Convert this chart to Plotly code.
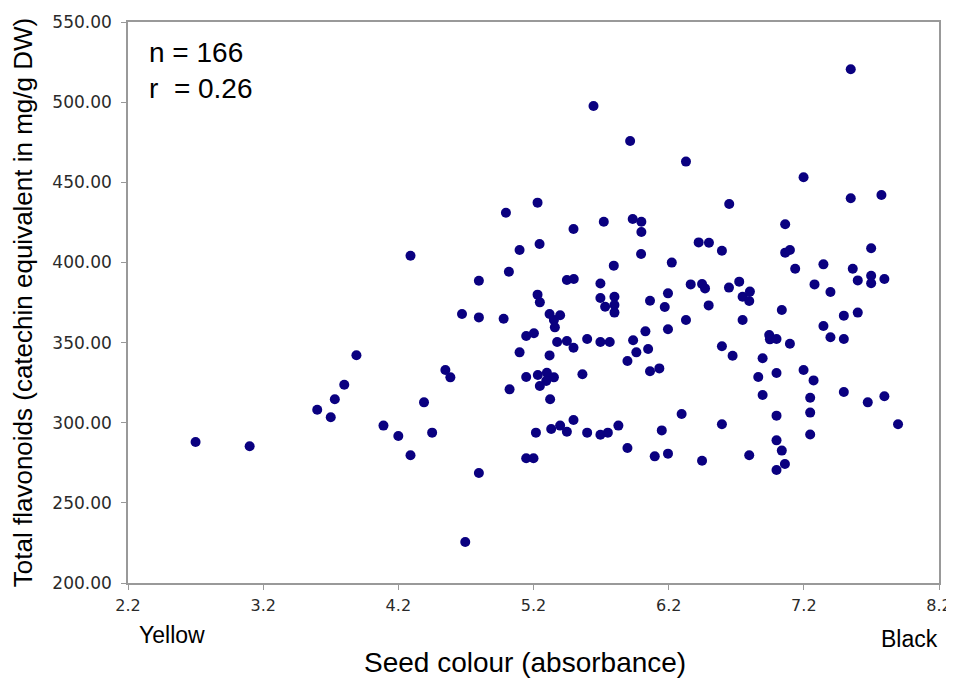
import plotly.graph_objects as go

# Seed colour (absorbance) values
seed_colour = [
    2.70, 3.10, 4.29, 3.89, 3.80, 3.73, 3.60, 3.70, 4.39, 4.09, 4.20, 4.29, 4.45,
    5.245, 5.097, 5.996, 5.794, 6.223, 5.018, 4.796, 5.447, 5.498, 5.695,
    6.363, 6.447, 6.469, 5.230, 5.247, 5.695, 5.799, 5.730, 5.799, 5.799,
    6.062, 6.195, 6.171, 6.496, 4.671, 4.796, 4.979, 5.319, 5.397, 5.351, 5.358,
    6.328, 6.028, 6.195, 5.146, 5.203, 5.375, 5.447, 5.496, 5.597, 5.695, 5.764,
    5.937, 5.961, 6.048, 5.097, 5.319, 5.895, 4.548, 4.585, 5.146, 5.232, 5.299,
    5.351, 5.294, 5.247, 5.562, 6.062, 6.131, 5.023, 5.323, 6.296, 5.496,
    5.218, 5.331, 5.397, 5.447, 5.597, 5.695, 5.750, 5.828, 6.149, 5.895,
    6.097, 6.195, 6.447, 5.146, 5.200, 4.796, 4.695, 6.422, 6.498,
    5.644, 5.915, 6.328, 5.230, 4.996, 5.720, 5.496, 5.934, 5.998, 5.998,
    6.594, 7.062, 7.097, 7.698, 7.136, 7.345, 7.562, 7.599, 7.698, 7.698, 7.796,
    7.279, 7.397, 6.722, 6.646, 6.801, 6.747, 6.796, 7.037, 6.747, 7.496, 7.599,
    7.345, 7.397, 7.496, 6.944, 6.949, 6.998, 7.097, 6.594, 6.673, 6.895, 6.998,
    6.863, 7.198, 7.272, 6.895, 7.247, 7.496, 7.673, 7.796, 7.247, 6.998, 6.594,
    7.897, 7.247, 6.998, 7.037, 6.796, 7.060, 6.998,
    7.547, 7.198, 7.547, 7.774, 6.648, 7.062,
]

# Total flavonoids (catechin equivalent in mg/g DW)
flavonoids = [
    288.0, 285.3, 404.2, 342.1, 323.7, 314.6, 308.1, 303.4, 312.7, 298.2, 291.7, 279.7, 293.8,
    411.5, 407.8, 405.3, 398.0, 399.9, 394.2, 388.6, 389.0, 389.7, 386.9,
    386.3, 386.5, 383.8, 379.9, 375.1, 377.8, 378.6, 372.4, 373.4, 368.7,
    376.1, 380.7, 372.2, 373.2, 367.8, 365.7, 364.9, 367.8, 367.0, 364.1, 359.5,
    364.1, 357.0, 358.3, 354.1, 355.8, 350.4, 351.0, 346.8, 352.2, 350.4, 350.4,
    351.4, 343.9, 346.0, 343.9, 342.0, 338.5, 332.9, 328.3, 328.5, 329.8, 331.2,
    328.3, 326.0, 322.9, 330.2, 332.1, 333.9, 320.8, 314.6, 305.4, 301.7,
    293.8, 296.1, 298.2, 294.4, 293.8, 292.5, 293.8, 298.2, 295.2, 284.2,
    279.0, 280.7, 276.3, 277.8, 277.8, 268.6, 225.6, 412.5, 412.3,
    497.6, 475.8, 462.9, 437.3, 431.0, 425.4, 420.9, 427.1, 425.4, 419.0,
    407.3, 406.1, 407.8, 408.8, 396.1, 398.8, 396.1, 388.8, 391.7, 387.0, 389.7,
    386.3, 381.6, 388.0, 384.3, 381.8, 378.6, 375.9, 370.3, 364.1, 366.8, 368.7,
    360.3, 353.3, 352.2, 354.7, 352.0, 352.2, 349.3, 347.7, 341.8, 340.2, 331.0,
    328.5, 332.9, 326.4, 317.3, 315.6, 319.2, 312.7, 316.5, 306.3, 304.4, 299.0,
    299.0, 292.6, 289.0, 282.6, 279.7, 274.2, 270.5,
    520.5, 453.1, 440.0, 442.1, 436.5, 423.8,
]

x_ticks = [2.2, 3.2, 4.2, 5.2, 6.2, 7.2, 8.2]
y_ticks = [200, 250, 300, 350, 400, 450, 500, 550]

FONT = "Liberation Sans, Arial, sans-serif"
TICK_FONT = "DejaVu Sans, Verdana, sans-serif"
AXIS_GREY = "#999999"

fig = go.Figure()
fig.add_trace(go.Scatter(
    x=seed_colour, y=flavonoids, mode="markers",
    marker=dict(color="#0a0080", size=10, line=dict(width=0)),
    showlegend=False,
))

fig.update_layout(
    width=946, height=671,
    margin=dict(l=120, r=15, t=14, b=96),
    paper_bgcolor="white", plot_bgcolor="white",
    font=dict(family=FONT, color="#222222"),
    xaxis=dict(
        range=[2.2, 8.2], tickvals=x_ticks, ticktext=[f"{v:.1f}" for v in x_ticks],
        showgrid=False, zeroline=False, automargin=False,
        showline=True, linecolor=AXIS_GREY, linewidth=1.5, mirror=True,
        ticks="outside", ticklen=5, tickcolor=AXIS_GREY,
        tickfont=dict(size=16, family=TICK_FONT, color="#2a2a2a"),
        ticklabelstandoff=2,
    ),
    yaxis=dict(
        range=[200, 550], tickvals=y_ticks, ticktext=[f"{v:.2f}" for v in y_ticks],
        showgrid=False, zeroline=False, automargin=False,
        showline=True, linecolor=AXIS_GREY, linewidth=1.5, mirror=True,
        ticks="outside", ticklen=5, tickcolor=AXIS_GREY,
        tickfont=dict(size=17, family=TICK_FONT, color="#2a2a2a"),
        ticklabelstandoff=6,
        title=dict(text="Total flavonoids (catechin equivalent in mg/g DW)",
                   font=dict(size=26, family=FONT, color="#000000"), standoff=16),
    ),
    annotations=[
        dict(text="n = 166<br>r  = 0.26", xref="paper", yref="paper", x=0.024, y=0.977,
             xanchor="left", yanchor="top", showarrow=False, align="left",
             font=dict(size=28, family=FONT, color="#000000")),
        dict(text="Yellow", xref="paper", yref="paper", x=0.011, y=-0.092,
             xanchor="left", yanchor="middle", showarrow=False,
             font=dict(size=23, family=FONT, color="#000000")),
        dict(text="Black", xref="paper", yref="paper", x=1.001, y=-0.099,
             xanchor="right", yanchor="middle", showarrow=False,
             font=dict(size=23, family=FONT, color="#000000")),
        dict(text="Seed colour (absorbance)", xref="paper", yref="paper", x=0.489, y=-0.141,
             xanchor="center", yanchor="middle", showarrow=False,
             font=dict(size=28, family=FONT, color="#000000")),
    ],
)

fig.write_html("out.html")
